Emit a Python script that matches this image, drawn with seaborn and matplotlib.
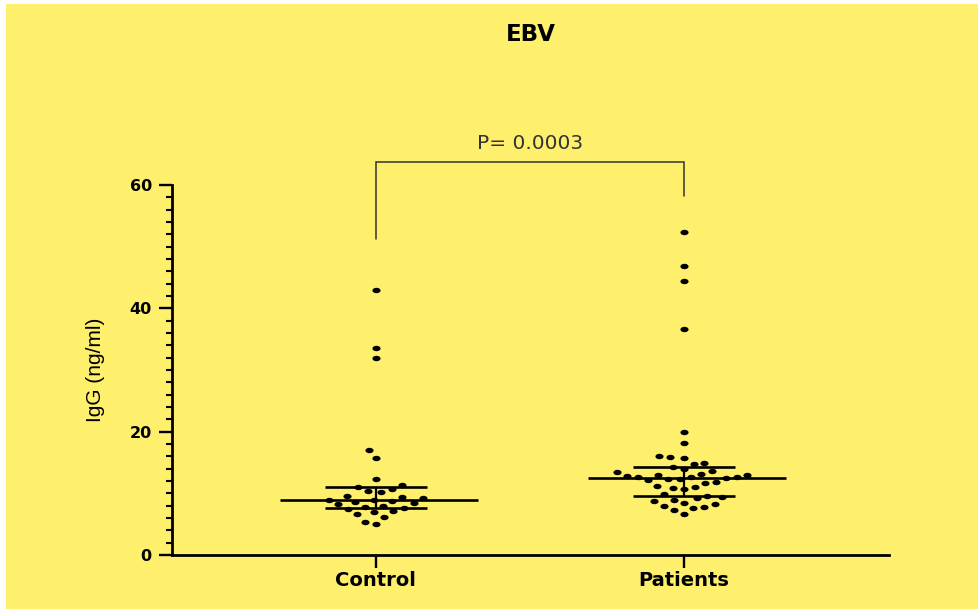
import numpy as np
import pandas as pd
import matplotlib
matplotlib.use("Agg")
import matplotlib.pyplot as plt
from matplotlib.path import Path
from matplotlib.patches import Rectangle
from matplotlib.ticker import MultipleLocator
import seaborn as sns

# ---- data -------------------------------------------------------------
groups = ["Control", "Patients"]
control_igg = [43.0, 33.6, 31.9, 17.0, 15.7, 12.3, 11.4, 11.1, 10.7, 10.4,
               10.2, 9.6, 9.4, 9.2, 9.0, 9.0, 8.8, 8.6, 8.4, 8.2,
               8.0, 7.8, 7.6, 7.4, 7.1, 6.9, 6.6, 6.2, 5.4, 5.1]
patients_igg = [52.3, 46.9, 44.4, 36.6, 20.0, 18.2, 16.1, 15.9, 15.8, 14.9,
                14.7, 14.3, 13.9, 13.6, 13.4, 13.2, 13.0, 12.9, 12.8, 12.7,
                12.6, 12.6, 12.5, 12.4, 12.3, 12.1, 11.9, 11.6, 11.2, 11.0,
                10.9, 10.7, 9.9, 9.6, 9.4, 9.2, 9.0, 8.8, 8.4, 8.2,
                8.0, 7.8, 7.6, 7.3, 6.7]
y_ticks = [0, 20, 40, 60]
title_text = "EBV"
y_label = "IgG (ng/ml)"
p_label = "P= 0.0003"

df = pd.DataFrame({
    "group": [groups[0]] * len(control_igg) + [groups[1]] * len(patients_igg),
    "igg": control_igg + patients_igg,
})

# ---- style ------------------------------------------------------------
YELLOW = "#FEEF6C"
INK = "#000000"
sns.set_style("ticks")
plt.rcParams["font.family"] = ["DejaVu Sans"]

fig = plt.figure(figsize=(9.79, 6.12), dpi=100, facecolor="white")
fig.patches.append(Rectangle((6 / 979, 3 / 612), 1 - 6 / 979, 1 - 7 / 612,
                             transform=fig.transFigure, facecolor=YELLOW,
                             edgecolor="none", zorder=-10))
ax = fig.add_axes([172 / 979, 57 / 612, 717 / 979, 370 / 612])
ax.set_facecolor("none")

# flat elliptical dot; the invisible corner points set the swarm footprint
t = np.linspace(0, 2 * np.pi, 33)
ell = np.column_stack([0.39 * np.cos(t), 0.26 * np.sin(t)])
verts = np.vstack([[-0.5, -0.5], [0.5, 0.5], ell])
codes = [Path.MOVETO, Path.MOVETO, Path.MOVETO] + [Path.LINETO] * (len(t) - 2) + [Path.CLOSEPOLY]
dot = Path(verts, codes)

sns.swarmplot(data=df, x="group", y="igg", order=groups, color=INK,
              size=7.5, marker=dot, linewidth=0, ax=ax, zorder=3)

# median with interquartile range
for i, vals in enumerate([control_igg, patients_igg]):
    q1, med, q3 = np.percentile(vals, [25, 50, 75])
    ax.hlines(med, i - 0.31, i + 0.33, color=INK, lw=1.9, zorder=4)
    ax.hlines([q1, q3], i - 0.165, i + 0.165, color=INK, lw=1.9, zorder=4)
    ax.vlines(i, q1, q3, color=INK, lw=1.6, zorder=4)

# significance bracket
ax.plot([0, 0, 1, 1], [51.2, 63.7, 63.7, 58.2], color="#333333", lw=1.1,
        clip_on=False, solid_joinstyle="miter")
ax.text(0.5, 65.8, p_label, ha="center", va="baseline", fontsize=14.5,
        color="#333333")

# axes
ax.set_xlim(-0.662, 1.666)
ax.set_ylim(0, 60)
ax.set_yticks(y_ticks)
ax.yaxis.set_minor_locator(MultipleLocator(2))
sns.despine(ax=ax)
for side in ("left", "bottom"):
    ax.spines[side].set_linewidth(2.0)
    ax.spines[side].set_color(INK)
ax.tick_params(axis="y", which="major", length=9.5, width=1.7, pad=5,
               labelsize=11.5, colors=INK)
ax.tick_params(axis="y", which="minor", length=4.5, width=1.5, colors=INK)
ax.tick_params(axis="x", which="major", length=9.5, width=1.7, pad=2,
               labelsize=14, colors=INK)
for lab in ax.get_xticklabels() + ax.get_yticklabels():
    lab.set_fontweight("bold")

ax.set_xlabel("")
ax.set_ylabel(y_label, fontsize=15, family=["Liberation Sans", "DejaVu Sans"],
              color=INK)
ax.yaxis.set_label_coords(-0.093, 0.5)
ax.set_title(title_text, fontsize=16.5, fontweight="bold", y=1.389, pad=0,
             color=INK)

fig.savefig("out.png", dpi=100, facecolor="white")
